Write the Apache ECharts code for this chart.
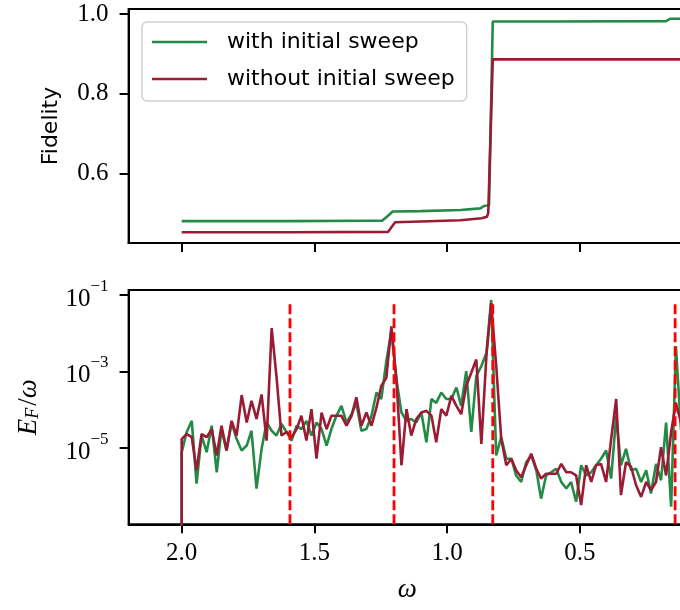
<!DOCTYPE html>
<html><head><meta charset="utf-8">
<script src="https://cdn.jsdelivr.net/npm/echarts@6/dist/echarts.min.js"></script>
<style>html,body{margin:0;padding:0;background:#fff;overflow:hidden}#c{width:690px;height:610px}</style>
</head><body><div id="c"></div>
<script>
const seriesNames = ['with initial sweep', 'without initial sweep'];
const xTicks = [2.0, 1.5, 1.0, 0.5];
const fidTicks = [0.6, 0.8, 1.0];
const errTicks = [1e-5, 1e-3, 1e-1];

// Fidelity (top panel)
const fidOmegaWith = [2.0, 1.60, 1.30, 1.245, 1.225, 1.205, 1.10, 0.95, 0.875, 0.860, 0.850, 0.842, 0.828, 0.60, 0.175, 0.160, 0.10];
const fidWith =      [0.480, 0.480, 0.481, 0.481, 0.492, 0.504, 0.505, 0.508, 0.512, 0.518, 0.519, 0.520, 0.981, 0.981, 0.982, 0.988, 0.988];
const fidOmegaWithout = [2.0, 1.60, 1.222, 1.196, 1.10, 0.95, 0.870, 0.850, 0.845, 0.828, 0.60, 0.10];
const fidWithout =      [0.452, 0.452, 0.453, 0.477, 0.479, 0.482, 0.487, 0.491, 0.500, 0.886, 0.886, 0.886];

// E_F / omega (bottom panel)
const omega = [2.000, 2.000, 1.981, 1.962, 1.944, 1.925, 1.906, 1.887, 1.868, 1.850, 1.831, 1.812, 1.793, 1.774, 1.755, 1.737, 1.718, 1.699, 1.680, 1.661, 1.643, 1.624, 1.605, 1.586, 1.567, 1.549, 1.530, 1.511, 1.492, 1.473, 1.454, 1.436, 1.417, 1.398, 1.379, 1.360, 1.342, 1.323, 1.304, 1.285, 1.266, 1.248, 1.229, 1.210, 1.191, 1.172, 1.153, 1.135, 1.116, 1.097, 1.078, 1.059, 1.041, 1.022, 1.003, 0.984, 0.965, 0.947, 0.928, 0.909, 0.890, 0.871, 0.852, 0.834, 0.815, 0.796, 0.777, 0.758, 0.740, 0.721, 0.702, 0.683, 0.664, 0.646, 0.627, 0.608, 0.589, 0.570, 0.551, 0.533, 0.514, 0.495, 0.476, 0.457, 0.439, 0.420, 0.401, 0.382, 0.363, 0.345, 0.326, 0.307, 0.288, 0.269, 0.250, 0.232, 0.213, 0.194, 0.175, 0.156, 0.138, 0.119, 0.100];
const errWith = [1e-10,
  7.7e-6, 2.6e-5, 5.1e-5, 1.16e-6, 2.1e-5, 7.7e-6, 3.8e-5, 2.3e-6, 3.1e-5, 8.5e-6,
  4.6e-5, 1.7e-5, 8.5e-6, 1.15e-5, 2.8e-5, 8.6e-7, 9.4e-6, 4.6e-5, 2.8e-5, 2.1e-5,
  4.2e-5, 2.6e-5, 1.55e-5, 3.8e-5, 3.1e-5, 5.1e-5, 2.1e-5, 4.6e-5, 3.1e-5, 1.15e-5,
  3.1e-5, 6.9e-5, 1.26e-4, 4.6e-5, 7.6e-5, 1.5e-4, 2.8e-5, 3.1e-5, 6.9e-5, 2.8e-4,
  1.9e-4, 1.85e-3, 1.12e-2, 6.2e-4, 8.4e-5, 5.1e-5, 5.7e-5, 4.6e-5, 8.4e-5, 1.4e-5,
  1.9e-4, 1.5e-4, 2.8e-4, 1.9e-4, 1.9e-4, 3.8e-4, 1.26e-4, 1.02e-3, 2.6e-5, 7.6e-4,
  1.38e-3, 3.05e-3, 7.4e-2, 6.3e-6, 1.9e-5, 5.2e-6, 5.2e-6, 1.9e-6, 1.28e-6, 4.2e-6,
  6.3e-6, 2.6e-6, 4.7e-7, 1.9e-6, 2.3e-6, 2.85e-6, 1.28e-6, 8.6e-7, 1.28e-6, 3.9e-7,
  3.5e-6, 1.9e-6, 2.3e-6, 3.5e-6, 5.2e-6, 8.5e-6, 1.57e-6, 6.9e-5, 3.5e-6, 9.4e-6,
  2.6e-6, 2.85e-6, 1.28e-6, 2.6e-6, 6.4e-7, 3.8e-6, 1.42e-6, 4.6e-5, 2.9e-7, 4.55e-3,
  3.1e-5, 1.7e-5];
const errWithout = [1e-10,
  1.7e-5, 2.3e-5, 1.9e-5, 2.6e-6, 2.3e-5, 1.9e-5, 3.1e-5, 6.3e-6, 3.8e-5, 8.5e-6,
  5.1e-5, 2.1e-5, 2.4e-4, 4.6e-5, 1.7e-4, 5.7e-5, 2.5e-4, 1.55e-5, 1.36e-2, 7.6e-4,
  2.1e-5, 2.6e-5, 1.9e-5, 3.1e-5, 6.9e-5, 1.55e-5, 1.03e-4, 5.2e-6, 8.4e-5, 3.1e-5,
  6.9e-5, 6.9e-5, 6.9e-5, 3.8e-5, 6.9e-5, 2.1e-4, 3.8e-5, 8.4e-5, 3.8e-5, 1.14e-4,
  4.2e-4, 6.8e-4, 1.5e-2, 6.2e-4, 3.5e-6, 1.03e-4, 2.1e-5, 5.7e-5, 8.4e-5, 9.3e-5,
  6.9e-5, 1.4e-5, 1.03e-4, 6.9e-5, 2.3e-4, 1.26e-4, 7.6e-5, 4.2e-4, 9.2e-4, 2.05e-3,
  1.27e-5, 2.5e-3, 6.1e-2, 1.4e-3, 1.7e-5, 3.5e-6, 5.2e-6, 2.6e-6, 1.7e-6, 3.5e-6,
  7.0e-6, 2.85e-6, 1.57e-6, 2.1e-6, 2.1e-6, 2.1e-6, 3.8e-6, 2.3e-6, 2.3e-6, 1.9e-6,
  3.2e-7, 3.5e-6, 1.28e-6, 3.5e-6, 3.8e-6, 1.28e-6, 1.7e-5, 1.9e-4, 5.8e-7, 4.2e-6,
  3.2e-6, 1.05e-6, 5.2e-7, 1.28e-6, 7.8e-7, 1.28e-6, 1.04e-5, 1.9e-6, 2.6e-5, 1.5e-4,
  4.6e-5, 1.7e-5];

// vertical dashed markers
const transitionOmega = [1.592, 1.2, 0.828, 0.141];
const transitionSpan = [1e-7, 0.06];

const GREEN = '#238b45', RED = '#9b1b34';
const SERIF = 'Liberation Serif', SANS = 'DejaVu Sans';

const chart = echarts.init(document.getElementById('c'), null, {renderer: 'canvas'});
const pairs = (xs, ys) => xs.map((x, i) => [x, ys[i]]);
const axisLine = {show: true, lineStyle: {color: '#000', width: 2}};
const tickBase = {show: true, length: 9, inside: false, lineStyle: {color: '#000', width: 2}};

const series = [
  {name: seriesNames[0], type: 'line', xAxisIndex: 0, yAxisIndex: 0, data: pairs(fidOmegaWith, fidWith), symbol: 'none', lineStyle: {color: GREEN, width: 2.6}, itemStyle: {color: GREEN}, z: 2},
  {name: seriesNames[1], type: 'line', xAxisIndex: 0, yAxisIndex: 0, data: pairs(fidOmegaWithout, fidWithout), symbol: 'none', lineStyle: {color: RED, width: 2.6}, itemStyle: {color: RED}, z: 3},
  {name: seriesNames[0], type: 'line', xAxisIndex: 1, yAxisIndex: 1, data: pairs(omega, errWith), symbol: 'none', lineStyle: {color: GREEN, width: 2.6}, itemStyle: {color: GREEN}, z: 2, clip: true},
  {name: seriesNames[1], type: 'line', xAxisIndex: 1, yAxisIndex: 1, data: pairs(omega, errWithout), symbol: 'none', lineStyle: {color: RED, width: 2.6}, itemStyle: {color: RED}, z: 3, clip: true}
];
transitionOmega.forEach((w, i) => {
  series.push({name: 'transition' + i, type: 'line', xAxisIndex: 1, yAxisIndex: 1, data: transitionSpan.map(v => [w, v]), symbol: 'none', lineStyle: {color: '#ff0000', width: 2.8, type: [10, 4]}, z: 5, silent: true});
});

chart.setOption({
  animation: false,
  backgroundColor: '#fff',
  textStyle: {fontFamily: SERIF},
  grid: [
    {left: 128.6, right: 4, top: 9, height: 234, show: true, borderColor: '#000', borderWidth: 2, containLabel: false},
    {left: 128.6, right: 4, top: 290, height: 234.3, show: true, borderColor: '#000', borderWidth: 2, containLabel: false}
  ],
  legend: {
    data: seriesNames, orient: 'vertical', left: 142, top: 22, icon: 'rect', itemWidth: 55, itemHeight: 2.6, itemGap: 15,
    padding: [9, 12, 11, 10], borderColor: '#d0d0d0', borderWidth: 1.5, borderRadius: 5, backgroundColor: 'rgba(255,255,255,0.85)',
    selectedMode: false,
    textStyle: {fontFamily: SANS, fontSize: 22, color: '#000', lineHeight: 22, padding: [0, 0, 0, 15]}
  },
  xAxis: [
    {gridIndex: 0, type: 'value', min: 0.1, max: 2.2, inverse: true, axisLine, splitLine: {show: false},
     axisTick: Object.assign({customValues: xTicks}, tickBase), axisLabel: {show: false}},
    {gridIndex: 1, type: 'value', min: 0.1, max: 2.2, inverse: true, axisLine, splitLine: {show: false},
     axisTick: Object.assign({customValues: xTicks}, tickBase),
     axisLabel: {show: true, customValues: xTicks, margin: 17, fontFamily: SERIF, fontSize: 25, color: '#000', formatter: v => v.toFixed(1)},
     name: 'ω', nameLocation: 'middle', nameGap: 52, nameTextStyle: {fontFamily: SERIF, fontStyle: 'italic', fontSize: 27, color: '#000'}}
  ],
  yAxis: [
    {gridIndex: 0, type: 'value', min: 0.425, max: 1.0125, axisLine, splitLine: {show: false},
     axisTick: Object.assign({customValues: fidTicks}, tickBase),
     axisLabel: {show: true, customValues: fidTicks, margin: 20, fontFamily: SERIF, fontSize: 25, color: '#000', formatter: v => v.toFixed(1)},
     name: 'Fidelity', nameLocation: 'middle', nameGap: 66, nameTextStyle: {fontFamily: SANS, fontSize: 22, color: '#000'}},
    {gridIndex: 1, type: 'log', logBase: 10, min: 1e-7, max: 0.135, axisLine, splitLine: {show: false},
     axisTick: Object.assign({customValues: errTicks}, tickBase),
     axisLabel: {show: true, customValues: errTicks, margin: 20, color: '#000',
       formatter: v => '{b|10}{s|\u2212' + Math.abs(Math.round(Math.log10(v))) + '}',
       rich: {b: {fontFamily: SERIF, fontSize: 25, lineHeight: 34, verticalAlign: 'bottom', color: '#000'},
              s: {fontFamily: SERIF, fontSize: 17, lineHeight: 17, verticalAlign: 'top', color: '#000'}}},
     name: '{i|E}{sub|F}{n|/}{i|ω}', nameLocation: 'middle', nameGap: 86,
     nameTextStyle: {color: '#000', rich: {
       i: {fontFamily: SERIF, fontStyle: 'italic', fontSize: 27, lineHeight: 34, verticalAlign: 'bottom'},
       n: {fontFamily: SERIF, fontSize: 27, lineHeight: 34, verticalAlign: 'bottom'},
       sub: {fontFamily: SERIF, fontStyle: 'italic', fontSize: 18, lineHeight: 18, verticalAlign: 'bottom', padding: [0, 2, 0, 0]}}}}
  ],
  series
});
</script></body></html>
